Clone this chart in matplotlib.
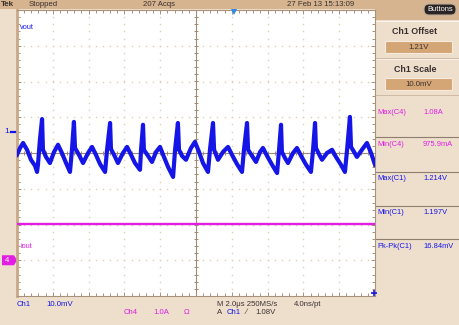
import matplotlib
matplotlib.use("Agg")
import matplotlib.pyplot as plt
import numpy as np
from matplotlib.patches import Rectangle, FancyBboxPatch, Polygon
from matplotlib.collections import LineCollection
from matplotlib.transforms import blended_transform_factory

# ---------------- data ----------------
# Ch1 (vout) trace: time in microseconds from left edge, voltage in volts
vout_t_us = [0.00, 0.17, 0.34, 0.56, 0.78, 1.01, 1.12, 1.17, 1.28, 1.40,
             1.45, 1.62, 1.84, 2.07, 2.29, 2.51, 2.74, 2.96, 3.07, 3.18,
             3.24, 3.46, 3.69, 3.97, 4.19, 4.41, 4.64, 4.92, 5.03, 5.20,
             5.25, 5.42, 5.64, 5.92, 6.15, 6.37, 6.59, 6.87, 6.93, 7.04,
             7.09, 7.32, 7.54, 7.77, 7.99, 8.21, 8.44, 8.72, 8.83, 8.99,
             9.05, 9.22, 9.44, 9.72, 9.94, 10.17, 10.39, 10.67, 10.78, 10.95,
             11.01, 11.23, 11.51, 11.79, 12.01, 12.29, 12.57, 12.68, 12.85,
             12.91, 13.13, 13.35, 13.58, 13.74, 13.97, 14.25, 14.53, 14.64,
             14.75, 14.80, 14.97, 15.14, 15.42, 15.64, 15.87, 16.15, 16.42,
             16.54, 16.65, 16.70, 16.87, 17.04, 17.32, 17.60, 17.82, 18.10,
             18.32, 18.44, 18.60, 18.66, 18.83, 18.99, 19.27, 19.55, 19.78,
             20.00]
vout_v = [1.2036, 1.2055, 1.2069, 1.2050, 1.2022, 1.2005, 1.1988, 1.2008, 1.2078, 1.2136,
          1.2050, 1.2030, 1.2013, 1.2044, 1.2064, 1.2041, 1.2013, 1.1988, 1.2050, 1.2128,
          1.2055, 1.2036, 1.2013, 1.2041, 1.2058, 1.2036, 1.2010, 1.1988, 1.2050, 1.2125,
          1.2052, 1.2036, 1.2013, 1.2041, 1.2058, 1.2036, 1.2013, 1.1994, 1.2050, 1.2120,
          1.2050, 1.2033, 1.2016, 1.2044, 1.2058, 1.2030, 1.2002, 1.1974, 1.2050, 1.2125,
          1.2050, 1.2033, 1.2022, 1.2055, 1.2072, 1.2044, 1.2013, 1.1988, 1.2050, 1.2125,
          1.2050, 1.2022, 1.2044, 1.2058, 1.2036, 1.2010, 1.1988, 1.2050, 1.2125,
          1.2050, 1.2033, 1.2016, 1.2044, 1.2055, 1.2033, 1.2008, 1.1985, 1.2050,
          1.2120, 1.2044, 1.2027, 1.2013, 1.2041, 1.2055, 1.2033, 1.2008, 1.1988,
          1.2050, 1.2125, 1.2055, 1.2038, 1.2022, 1.2041, 1.2050, 1.2030, 1.2008,
          1.1988, 1.2050, 1.2142, 1.2058, 1.2044, 1.2030, 1.2050, 1.2069, 1.2041,
          1.2008]

# Ch4 (iout) trace: time in microseconds, current in amperes
iout_t_us = [0.0, 20.0]
iout_a = [1.014, 1.014]

# Channel / timebase settings (as shown on the screen)
ch1_scale_v = 0.010     # 10.0 mV/div
ch1_offset_v = 1.21     # Ch1 offset
ch1_pos_div = 0.59      # Ch1 marker position
ch4_scale_a = 1.0       # 1.0 A/div
ch4_pos_div = -3.0      # Ch4 ground marker
time_per_div_us = 2.0
trigger_time_us = 12.12

header_status = "Stopped"
header_acqs = "207 Acqs"
header_date = "27 Feb 13 15:13:09"
offset_text = "1.21V"
scale_text = "10.0mV"
meas_labels = ["Max(C4)", "Min(C4)", "Max(C1)", "Min(C1)", "Pk-Pk(C1)"]
meas_values = ["1.08A", "975.9mA", "1.214V", "1.197V", "16.84mV"]
meas_channels = ["C4", "C4", "C1", "C1", "C1"]

# ---------------- styling ----------------
W, H = 459, 325
BLUE = "#1515E8"
MAGENTA = "#E21EE2"
PANEL = "#EEDFCD"
HEADER = "#D5B48F"
GRID = "#E0CDB4"
FRAME = "#A8927C"
DARK = "#3A3030"
FONT = ["Liberation Sans", "DejaVu Sans"]
plt.rcParams["font.family"] = FONT

fig = plt.figure(figsize=(W / 100, H / 100), dpi=100)
fig.patch.set_facecolor(PANEL)

# overlay in pixel coordinates (y downwards)
ov = fig.add_axes([0, 0, 1, 1], zorder=0)
ov.set_xlim(0, W)
ov.set_ylim(H, 0)
ov.axis("off")

# graticule
GL, GR, GT, GB = 17, 375, 10, 296
ax = fig.add_axes([GL / W, (H - GB) / H, (GR - GL) / W, (GB - GT) / H], zorder=1)
ax.set_facecolor("white")
nx, ny = 10, 8
xmax = nx * time_per_div_us
ax.set_xlim(0, xmax)
ax.set_ylim(-ny / 2, ny / 2)
for s in ax.spines.values():
    s.set_color(FRAME)
    s.set_linewidth(0.8)
ax.spines["left"].set_color("#C9A886")
ax.spines["left"].set_linewidth(2.0)
ax.set_xticks(np.arange(0, xmax + 0.01, time_per_div_us))
ax.set_yticks(np.arange(-ny / 2, ny / 2 + 0.01, 1))
ax.set_xticks(np.arange(0, xmax + 0.01, time_per_div_us / 5), minor=True)
ax.set_yticks(np.arange(-ny / 2, ny / 2 + 0.01, 0.2), minor=True)
ax.tick_params(which="both", direction="in", top=True, right=True,
               labelbottom=False, labelleft=False, color=FRAME, width=0.7)
ax.tick_params(which="major", length=3.0)
ax.tick_params(which="minor", length=2.4)

# dotted grid
gx, gy = [], []
for i in range(1, nx):
    if i == nx // 2:
        continue
    ys = np.arange(-ny / 2, ny / 2 + 0.01, 0.2)
    gx += [i * time_per_div_us] * len(ys)
    gy += list(ys)
for j in range(-ny // 2 + 1, ny // 2):
    if j == 0:
        continue
    xs = np.arange(0, xmax + 0.01, time_per_div_us / 5)
    gx += list(xs)
    gy += [j] * len(xs)
ax.plot(gx, gy, ls="none", marker="s", ms=1.0, mew=0, color=GRID, zorder=1)

# center cross with ticks
xc = xmax / 2
ax.axhline(0, color="#A08A72", lw=0.8, zorder=1.5)
ax.axvline(xc, color="#A08A72", lw=0.8, zorder=1.5)
segs = []
hx = 2.2 / 35.8 * time_per_div_us
hy = 2.2 / 35.75
for xv in np.arange(0, xmax + 0.01, time_per_div_us / 5):
    segs.append([(xv, -hy), (xv, hy)])
for yv in np.arange(-ny / 2, ny / 2 + 0.01, 0.2):
    segs.append([(xc - hx, yv), (xc + hx, yv)])
ax.add_collection(LineCollection(segs, colors="#A08A72", linewidths=0.7, zorder=1.5))

# traces
ch4_y = ch4_pos_div + np.array(iout_a) / ch4_scale_a
ax.plot(iout_t_us, ch4_y, color=MAGENTA, lw=1.7, zorder=3)
ch1_y = ch1_pos_div + (np.array(vout_v) - ch1_offset_v) / ch1_scale_v
ax.plot(vout_t_us, ch1_y, color=BLUE, lw=3.0, solid_joinstyle="round", zorder=4)

# trigger markers
ax.plot([trigger_time_us], [ny / 2 - 0.06], marker="v", ms=5, color="#2A8BE8",
        clip_on=False, zorder=6, mew=0)
ax.plot([xmax - 0.08], [-ny / 2 + 0.08], marker="+", ms=5, mew=1.2, color=BLUE,
        clip_on=False, zorder=6)

# labels inside graticule
ax.text(0.17, 3.5, "vout", color=BLUE, fontsize=5.3, va="center", ha="left", zorder=5)
ax.text(0.17, -2.62, "iout", color=MAGENTA, fontsize=5.3, va="center", ha="left", zorder=5)

# ---------------- overlay elements ----------------
# header bar
ov.add_patch(Rectangle((0, 0), W, 9, fc=HEADER, ec="none"))
ov.add_patch(Rectangle((GR, 0), W - GR, 20, fc=HEADER, ec="none"))
ov.text(1, 4.5, "Tek", fontsize=5.8, fontweight="bold", color=DARK, va="center")
ov.text(29, 4.5, header_status, fontsize=5.6, color=DARK, va="center")
ov.text(143, 4.5, header_acqs, fontsize=5.6, color=DARK, va="center")
ov.text(287, 4.5, header_date, fontsize=5.6, color=DARK, va="center")

# Buttons pill
ov.add_patch(FancyBboxPatch((424, 4), 32, 11, boxstyle="round,pad=0,rounding_size=5",
                            fc="#2C2424", ec="#BFAE9A", lw=0.8))
ov.text(440, 9.6, "Buttons", fontsize=5.4, color="white", ha="center", va="center")

# right panel sections
ov.plot([GR + 1, W], [20.5, 20.5], color="#FBF4EC", lw=0.8)
ov.plot([GR + 1, W], [58, 58], color="#C9B49E", lw=0.6)
ov.plot([GR + 1, W], [59, 59], color="#FBF4EC", lw=0.6)
ov.plot([GR + 1, W], [95, 95], color="#C9B49E", lw=0.6)
ov.text(415, 32, "Ch1 Offset", fontsize=6.4, fontweight="bold", color=DARK,
        ha="center", va="center")
ov.add_patch(Rectangle((385, 41), 67, 12, fc="#D4A676", ec="#F6EADC", lw=0.8))
ov.text(418.5, 47.2, offset_text, fontsize=5.6, color=DARK, ha="center", va="center")
ov.text(415, 69, "Ch1 Scale", fontsize=6.4, fontweight="bold", color=DARK,
        ha="center", va="center")
ov.add_patch(Rectangle((385, 78), 67, 12, fc="#D4A676", ec="#F6EADC", lw=0.8))
ov.text(418.5, 84.2, scale_text, fontsize=5.6, color=DARK, ha="center", va="center")

# measurements
row_y = [112, 145, 179, 213, 246]
for yv in [137, 172, 206, 239]:
    ov.plot([GR + 1, W], [yv, yv], color="#8E7E70", lw=0.8)
for lab, val, ch, yv in zip(meas_labels, meas_values, meas_channels, row_y):
    c = MAGENTA if ch == "C4" else BLUE
    ov.text(377, yv, lab, fontsize=5.4, color=c, va="center")
    ov.text(423, yv, val, fontsize=5.4, color=c, va="center")

# channel markers on the left (y from channel positions)
bt = blended_transform_factory(ov.transData, ax.transData)
ov.text(7, ch1_pos_div, "1", transform=bt, color=BLUE, fontsize=6, ha="center",
        va="center")
ov.plot([11, 16], [ch1_pos_div, ch1_pos_div], transform=bt, color=BLUE, lw=1.6)
ov.add_patch(Polygon([(2, ch4_pos_div + 0.14), (14, ch4_pos_div + 0.14),
                      (17, ch4_pos_div), (14, ch4_pos_div - 0.14),
                      (2, ch4_pos_div - 0.14)], closed=True, transform=bt,
                     fc=MAGENTA, ec="none"))
ov.text(7.5, ch4_pos_div, "4", transform=bt, color="white", fontsize=5.6,
        ha="center", va="center")

# bottom status lines
ov.text(17, 304, "Ch1", fontsize=5.6, color=BLUE, va="center")
ov.text(46, 304, "10.0mV", fontsize=5.6, color=BLUE, va="center")
ov.text(217, 304, "M 2.0\u03bcs 250MS/s", fontsize=5.6, color=DARK, va="center")
ov.text(294, 304, "4.0ns/pt", fontsize=5.6, color=DARK, va="center")
ov.text(124, 312.5, "Ch4", fontsize=5.6, color=MAGENTA, va="center")
ov.text(153, 312.5, "1.0A", fontsize=5.6, color=MAGENTA, va="center")
ov.text(184, 312.5, "\u03a9", fontsize=5.6, color=MAGENTA, va="center")
ov.text(217, 312.5, "A", fontsize=5.6, color=DARK, va="center")
ov.text(227, 312.5, "Ch1", fontsize=5.6, color=BLUE, va="center")
ov.text(246, 312.5, "\u2215", fontsize=5.6, color=DARK, va="center")
ov.text(255, 312.5, "1.08V", fontsize=5.6, color=DARK, va="center")

fig.savefig("out.png", dpi=100, facecolor=fig.get_facecolor())
